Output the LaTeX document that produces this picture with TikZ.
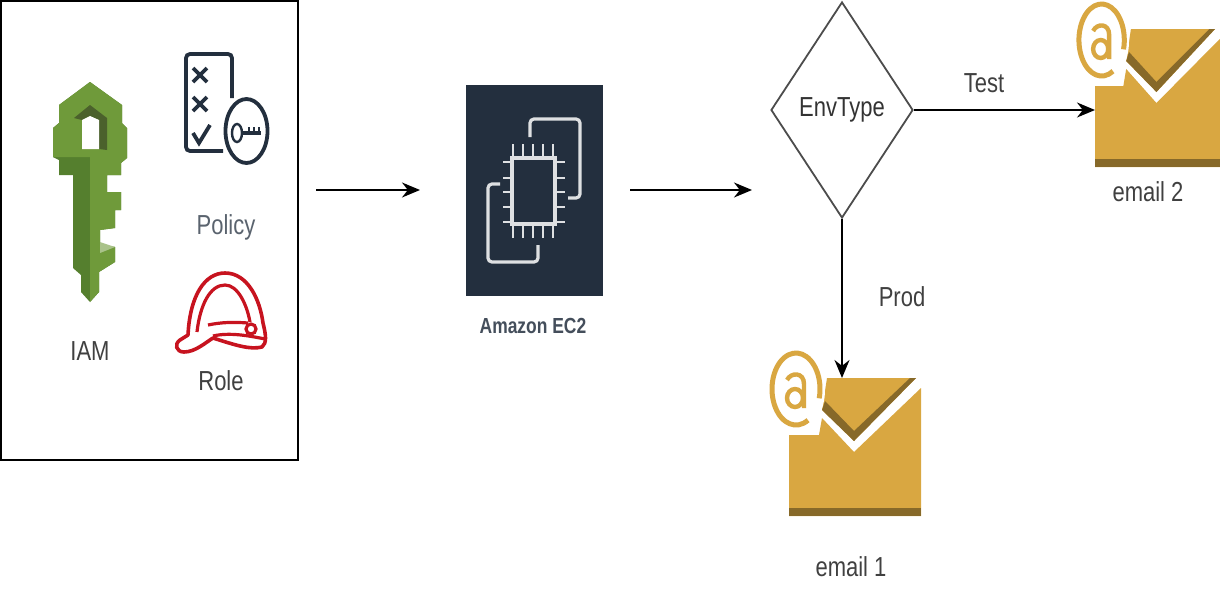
\documentclass[tikz,border=0pt]{standalone}
\usepackage{fontspec}
\setmainfont[FakeStretch=0.8]{Liberation Sans}
\usetikzlibrary{shapes.geometric,arrows.meta}
\definecolor{keylight}{HTML}{6F9A3A}
\definecolor{keydark}{HTML}{557F2E}
\definecolor{keyshade}{HTML}{4B612C}
\definecolor{navy}{HTML}{232F3E}
\definecolor{hatred}{HTML}{C7131F}
\definecolor{mailgold}{HTML}{D9A741}
\definecolor{mailshade}{HTML}{876929}
\tikzstyle{lbl}=[font=\fontsize{13.75}{16}\selectfont,text=black!75,inner sep=0pt]
\tikzstyle{flow}=[draw=black,line width=0.85pt,-{Stealth[length=9pt,width=7.5pt]}]
\tikzstyle{decide}=[diamond,draw=black!70,line width=0.9pt,aspect=0.657,inner sep=0pt,
minimum width=71pt,minimum height=108pt,font=\fontsize{13.75}{16}\selectfont,text=black!80]
\tikzstyle{panel}=[rectangle,draw=black,line width=1pt,inner sep=0pt,minimum width=148.5pt,minimum height=229.5pt]
\tikzstyle{slot}=[rectangle,inner sep=0pt,outer sep=0pt]
\tikzset{mailicon/.pic={
  % origin is the lower left corner of the envelope
  \fill[mailgold] (0,-81) -- (30,-81) -- (33,-98) -- (65,-64) -- (132,-128) -- (132,0) -- (0,0) -- cycle;
  \fill[mailshade] (0,-8) rectangle (132,0);
  \fill[mailgold] (38,-138) -- (127,-138) -- (65,-75) -- (33,-106) -- cycle;
  \fill[mailshade] (33,-106) -- (65,-75) -- (127,-138) -- (121,-138) -- (65,-85) -- (36,-115) -- cycle;
  \fill[white] (7,-126) ellipse [x radius=29,y radius=41];
  \draw[mailgold,line width=2.5pt] (19,-95.8) arc [start angle=60,end angle=375,x radius=24,y radius=36];
  \draw[mailgold,line width=2.2pt] (-2,-136) .. controls (2,-144) and (15,-144) .. (15,-132) -- (15,-108);
  \draw[mailgold,line width=2.2pt] (6,-118) ellipse [x radius=8,y radius=9];
}}
\begin{document}
\begin{tikzpicture}[x=0.5pt,y=-0.5pt]
  \useasboundingbox (0,0) rectangle (1221,600);
  \node[panel] (iambox) at (149.5,230.5) {};
  % key
  \fill[keydark] (90,82) -- (122,105) -- (122,123) -- (127,128) -- (127,158) -- (121,163) -- (121,175)
    -- (107,175) -- (107,192) -- (121,192) -- (121,210) -- (115,210) -- (115,228) -- (100,230) -- (100,245)
    -- (115,247) -- (115,262) -- (99,272) -- (99,292) -- (90,302) -- (81,292) -- (81,275) -- (73,268)
    -- (73,175) -- (59,175) -- (59,160) -- (53,157) -- (53,128) -- (59,123) -- (59,105) -- cycle;
  \fill[keylight] (90,82) -- (122,105) -- (122,123) -- (127,128) -- (127,158) -- (121,163) -- (121,175)
    -- (107,175) -- (107,192) -- (121,192) -- (121,210) -- (115,210) -- (115,228) -- (100,230) -- (100,245)
    -- (115,247) -- (115,262) -- (99,272) -- (99,292) -- (90,302) -- cycle;
  \fill[keylight] (90,82) -- (59,105) -- (59,123) -- (53,128) -- (53,157) -- (90,157) -- cycle;
  \fill[keyshade] (90,105) -- (107,118) -- (107,150) -- (99,149) -- (99,120) -- (90,116) -- (82,120) -- (74,118) -- cycle;
  \fill[white] (90,116) -- (99,120) -- (99,149) -- (82,149) -- (82,120) -- cycle;
  \fill[keylight!60!white] (100,242) -- (115,247) -- (100,253) -- cycle;
  \node[lbl] (iamlbl) at (90,351) {IAM};
  % policy
  \draw[navy,line width=1.9pt,rounded corners=2pt] (232,98) -- (232,54) -- (186,54) -- (186,151) -- (223,151);
  \draw[navy,line width=1.9pt] (193,68) -- (207,82) (207,68) -- (193,82) (193,97) -- (207,111) (207,97) -- (193,111);
  \draw[navy,line width=1.9pt] (193,133) -- (199,143) -- (210,125);
  \draw[navy,line width=1.9pt] (246.5,131) ellipse [x radius=21,y radius=32];
  \draw[navy,line width=1.2pt] (237,133) ellipse [x radius=5,y radius=9];
  \draw[navy,line width=1.6pt] (242,133) -- (261,133);
  \foreach \tx in {249,254,259}
    \draw[navy,line width=0.9pt] (\tx,127) -- (\tx,133);
  \node[lbl,text=navy!75] (policylbl) at (226,227) {Policy};
  % role
  \draw[hatred,line width=1.8pt,line join=round] (188,335) .. controls (190,295) and (205,273) .. (225,273)
    .. controls (248,273) and (260,300) .. (263,323) .. controls (266,335) and (267,343) .. (262,347)
    .. controls (250,350) and (235,345) .. (213,338) .. controls (205,343) and (195,352) .. (184,352)
    .. controls (176,352) and (174,344) .. (180,340) -- cycle;
  \draw[hatred,line width=1.6pt] (197,332) .. controls (200,305) and (210,285) .. (225,285) .. controls (238,285) and (247,305) .. (250,322);
  \draw[hatred,line width=1.6pt] (208,325) .. controls (222,322) and (235,322) .. (248,323);
  \draw[hatred,line width=1.6pt] (213,336) .. controls (230,332) and (250,336) .. (265,339);
  \draw[hatred,line width=1.6pt,fill=white] (251,329) ellipse [x radius=5,y radius=5];
  \node[lbl] (rolelbl) at (221,381) {Role};
  % ec2
  \node[slot,fill=navy,minimum width=68.5pt,minimum height=105.5pt] (ec2) at (534.5,190.5) {};
  \draw[white!85!navy,line width=1.6pt,rounded corners=2pt] (530,137) -- (530,119) -- (580,119) -- (580,198) -- (568,198);
  \draw[white!85!navy,line width=1.6pt,rounded corners=2pt] (500,184) -- (488,184) -- (488,262) -- (538,262) -- (538,245);
  \draw[white!85!navy,line width=1.8pt] (512,158) rectangle (555,224);
  \foreach \px in {513,523,533,543,553}
    \draw[white!85!navy,line width=1.4pt] (\px,144) -- (\px,158) (\px,224) -- (\px,238);
  \foreach \py in {162,178,192,207,222}
    \draw[white!85!navy,line width=1.4pt] (503,\py) -- (512,\py) (555,\py) -- (565,\py);
  \node[lbl,font=\fontsize{10.9}{13}\selectfont\bfseries,text=navy!85] (ec2lbl) at (533,326) {Amazon EC2};
  % decision
  \node[decide] (envtype) at (842,110) {EnvType};
  % mails
  \pic[xscale=1] at (789,516) {mailicon};
  \pic[xscale=0.945] at (1095,167) {mailicon};
  \node[slot,minimum width=66pt,minimum height=69pt] (mail1) at (855,447) {};
  \node[slot,minimum width=62pt,minimum height=69.5pt] (mail2) at (1157,97.5) {};
  \node[lbl] (mail1lbl) at (851,567) {email 1};
  \node[lbl] (mail2lbl) at (1148,192) {email 2};
  % arrows
  \coordinate (iamout) at (316,190);
  \coordinate (ec2in) at (420,190);
  \coordinate (ec2out) at (630,190);
  \coordinate (envin) at (752,190);
  \draw[flow] (iamout) -- (ec2in);
  \draw[flow] (ec2out) -- (envin);
  \draw[flow] (envtype.east) -- (envtype.east -| mail2.west);
  \draw[flow] (envtype.south) -- (envtype.south |- mail1.north);
  \node[lbl] (testlbl) at (984,83) {Test};
  \node[lbl] (prodlbl) at (902,297) {Prod};
\end{tikzpicture}
\end{document}
